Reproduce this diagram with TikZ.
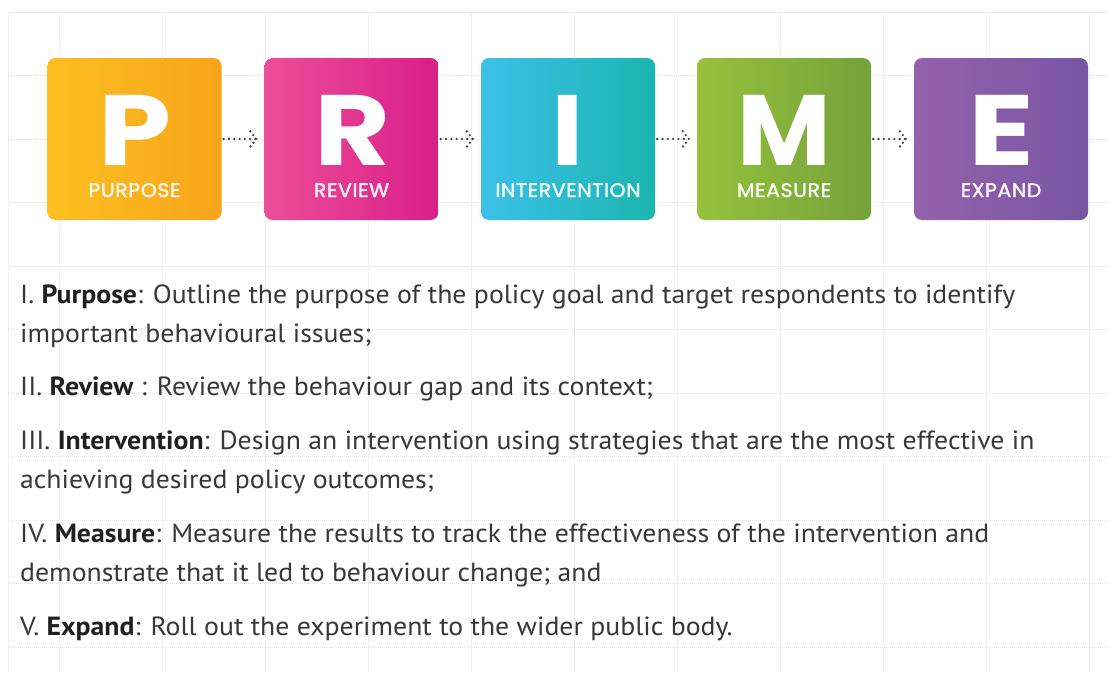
\documentclass[tikz,border=0pt]{standalone}
\usepackage{fontspec}
\setmainfont{PT Sans}[FakeStretch=1.055]
\newfontfamily\popfont{Poppins}
\newfontfamily\poplabel{Poppins}[FakeBold=2,FakeStretch=1.05,LetterSpace=3]
\usetikzlibrary{arrows.meta,calc}
\definecolor{pL}{HTML}{FCC021}
\definecolor{pR}{HTML}{F8A31B}
\definecolor{rL}{HTML}{EC4E98}
\definecolor{rR}{HTML}{D91E8A}
\definecolor{iL}{HTML}{3CC0EA}
\definecolor{iR}{HTML}{1BB5AE}
\definecolor{mL}{HTML}{96C23C}
\definecolor{mR}{HTML}{74A23A}
\definecolor{eL}{HTML}{9561AB}
\definecolor{eR}{HTML}{7856A3}
\definecolor{txtc}{HTML}{383838}
\definecolor{boldc}{HTML}{202020}
\definecolor{gridc}{HTML}{E4E4E4}
\definecolor{dotc}{HTML}{454545}
\tikzset{
  stagebox/.style={rounded corners=8pt, minimum width=174pt, minimum height=162pt, inner sep=0pt, draw=none},
  bigletter/.style={anchor=base, inner sep=0pt, text=white, font=\popfont\bfseries\fontsize{100}{100}\selectfont},
  stagelabel/.style={anchor=base, inner sep=0pt, text=white, text opacity=0.9, font=\poplabel\fontsize{19.5}{19.5}\selectfont},
  dotline/.style={draw=dotc, line width=2.6pt, dash pattern=on 0pt off 5.3pt, line cap=round},
  dotchev/.style={draw=dotc, line width=2.6pt, dash pattern=on 0pt off 4.8pt, line cap=round},
  gridline/.style={draw=gridc, line width=0.7pt, dash pattern=on 1pt off 1pt},
  txtline/.style={anchor=base west, inner sep=0pt, text=txtc, font=\fontsize{26.3}{30}\selectfont},
}
\newcommand{\kw}[1]{{\bfseries\color{boldc}#1}}
\newcommand{\wide}[1]{\scalebox{1.17}[1]{#1}}
\begin{document}
\begin{tikzpicture}[x=1pt,y=-1pt]
\useasboundingbox (0,0) rectangle (1110,673);
\fill[white] (0,0) rectangle (1110,673);
% faint grid
\foreach \gx in {59,162,265,368,471,574,677,780,883,986,1089}
  \draw[gridline] (\gx,12) -- (\gx,673);
\draw[gridline] (8,12) -- (8,673);
\foreach \gy in {12,75.5,139,202.5,266,329.5,393,456.5,520,583.5,647}
  \draw[gridline] (8,\gy) -- (1110,\gy);
% boxes
\node[stagebox, left color=pL, right color=pR] (p) at (134.5,139) {};
\node[stagebox, left color=rL, right color=rR] (r) at (351.5,139) {};
\node[stagebox, left color=iL, right color=iR] (i) at (568,139) {};
\node[stagebox, left color=mL, right color=mR] (m) at (784,139) {};
\node[stagebox, left color=eL, right color=eR] (e) at (1001,139) {};
% letters
\node[bigletter] (pt) at (135.5,165) {\wide{P}};
\node[bigletter] (rt) at (353,165) {\wide{R}};
\node[bigletter] (it) at (568,165) {\scalebox{1.1}[1]{I}};
\node[bigletter] (mt) at (784,165) {\scalebox{1.02}[1]{M}};
\node[bigletter] (et) at (1001.5,165) {\scalebox{1.22}[1]{E}};
\node[stagelabel] (pn) at (134.5,197) {PURPOSE};
\node[stagelabel] (rn) at (351.5,197) {REVIEW};
\node[stagelabel] (in) at (568,197) {INTERVENTION};
\node[stagelabel] (mn) at (784,197) {MEASURE};
\node[stagelabel] (en) at (1001,197) {EXPAND};
% dotted connectors
\foreach \a/\b in {p/r,r/i,i/m,m/e}{
  \draw[dotline] ([xshift=2pt]\a.east) -- ([xshift=-8pt]\b.west);
  \draw[dotchev] ([xshift=-14pt,yshift=7.7pt]\b.west) -- ([xshift=-8pt]\b.west) -- ([xshift=-14pt,yshift=-7.7pt]\b.west);
}
% text
\node[txtline] (t1) at (20,303) {I. \kw{Purpose}: Outline the purpose of the policy goal and target respondents to identify};
\node[txtline] (t2) at (20,342) {important behavioural issues;};
\node[txtline] (t3) at (20,395) {II. \kw{Review} : Review the behaviour gap and its context;};
\node[txtline] (t4) at (20,449) {III. \kw{Intervention}: Design an intervention using strategies that are the most effective in};
\node[txtline] (t5) at (20,488) {achieving desired policy outcomes;};
\node[txtline] (t6) at (20,542) {IV. \kw{Measure}: Measure the results to track the effectiveness of the intervention and};
\node[txtline] (t7) at (20,581) {demonstrate that it led to behaviour change; and};
\node[txtline] (t8) at (20,635) {V. \kw{Expand}: Roll out the experiment to the wider public body.};
\end{tikzpicture}
\end{document}
